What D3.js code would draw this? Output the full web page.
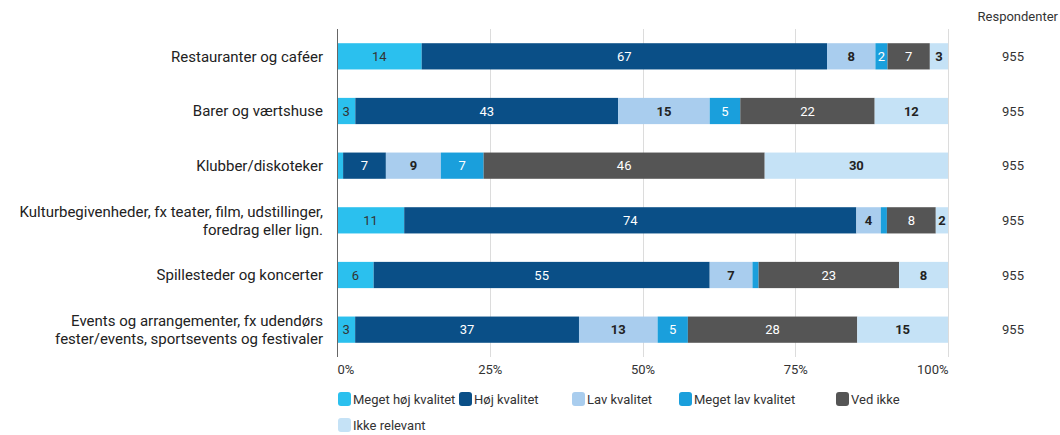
<!DOCTYPE html>
<html lang="da">
<head>
    <meta charset="UTF-8">
    <title>Kvalitet</title>
    <script src="https://d3js.org/d3.v7.min.js"></script>
    <style>
        body{ margin:0; background:white; }
        text{ font-family: Roboto, "Noto Sans", sans-serif; fill:#333; }
        .cat{ font-size:15px; text-anchor:end; fill:#222; }
        .val{ font-size:13px; text-anchor:middle; }
        .tick text{ font-size:13px; fill:#333; }
        .leg{ font-size:13px; }
        .grid{ stroke:#dcdcdc; stroke-width:1; }
    </style>
</head>
<body>
    <script>
        // data
        var categories = ["Restauranter og caféer", "Barer og værtshuse", "Klubber/diskoteker",
                          "Kulturbegivenheder, fx teater, film, udstillinger,|foredrag eller lign.",
                          "Spillesteder og koncerter",
                          "Events og arrangementer, fx udendørs|fester/events, sportsevents og festivaler"];
        var seriesNames = ["Meget høj kvalitet", "Høj kvalitet", "Lav kvalitet", "Meget lav kvalitet", "Ved ikke", "Ikke relevant"];
        var megetHoej    = [14, 3, 1, 11, 6, 3];
        var hoej         = [67, 43, 7, 74, 55, 37];
        var lav          = [8, 15, 9, 4, 7, 13];
        var megetLav     = [2, 5, 7, 1, 1, 5];
        var vedIkke      = [7, 22, 46, 8, 23, 28];
        var ikkeRelevant = [3, 12, 30, 2, 8, 15];
        var respondenter = [955, 955, 955, 955, 955, 955];
        var tickValues = [0, 0.25, 0.5, 0.75, 1];

        var colors = ["#2bc0ee", "#0a4f87", "#a9cdee", "#1a9fdc", "#555555", "#c5e2f6"];
        var labelColors = ["#333", "white", "#222", "white", "white", "#222"];
        var labelWeights = ["normal", "normal", "bold", "normal", "normal", "bold"];

        var allSeries = [megetHoej, hoej, lav, megetLav, vedIkke, ikkeRelevant];
        var rows = categories.map(function(c, i){
            var r = {cat: c};
            seriesNames.forEach(function(s, j){ r[s] = allSeries[j][i]; });
            return r;
        });

        var svg = d3.select("body").append("svg")
                    .attr("width", 1060).attr("height", 435);

        var x = d3.scaleLinear().domain([0, 1]).range([337, 948]);
        var y = d3.scaleBand().domain(categories).range([29, 357])
                  .paddingInner(0.52).paddingOuter(0.26);

        var stack = d3.stack().keys(seriesNames).offset(d3.stackOffsetExpand);
        var layers = stack(rows);

        // gridlines
        svg.append("g").selectAll("line")
           .data(tickValues.slice(1))
           .enter().append("line")
           .attr("class", "grid")
           .attr("x1", function(d){ return Math.round(x(d)) + 0.5; })
           .attr("x2", function(d){ return Math.round(x(d)) + 0.5; })
           .attr("y1", 29).attr("y2", 357);

        // bars
        var layer = svg.append("g").selectAll("g")
                       .data(layers)
                       .enter().append("g")
                       .attr("fill", function(d, i){ return colors[i]; });
        layer.selectAll("rect")
             .data(function(d){ return d; })
             .enter().append("rect")
             .attr("x", function(d){ return x(d[0]); })
             .attr("y", function(d){ return y(d.data.cat); })
             .attr("width", function(d){ return x(d[1]) - x(d[0]); })
             .attr("height", y.bandwidth());

        layer.selectAll("text")
             .data(function(d, i){ return d.map(function(p){ p.key = d.key; p.idx = i; return p; }); })
             .enter().append("text")
             .attr("class", "val")
             .filter(function(d){ return d.data[d.key] >= 2; })
             .attr("x", function(d){ return (x(d[0]) + x(d[1])) / 2; })
             .attr("y", function(d){ return y(d.data.cat) + y.bandwidth() / 2; })
             .attr("dy", "0.35em")
             .style("fill", function(d){ return labelColors[d.idx]; })
             .style("font-weight", function(d){ return labelWeights[d.idx]; })
             .text(function(d){ return d.data[d.key]; });

        // zero line
        svg.append("line")
           .attr("x1", x(0) + 0.5).attr("x2", x(0) + 0.5)
           .attr("y1", 29).attr("y2", 357)
           .attr("stroke", "#666").attr("stroke-width", 1);

        // category labels
        var cats = svg.append("g").selectAll("text")
                      .data(categories)
                      .enter().append("text")
                      .attr("class", "cat")
                      .attr("x", 323)
                      .attr("y", function(d){
                          var n = d.split("|").length;
                          return y(d) + y.bandwidth() / 2 - (n - 1) * 9;
                      });
        cats.selectAll("tspan")
            .data(function(d){ return d.split("|"); })
            .enter().append("tspan")
            .attr("x", 323)
            .attr("dy", function(d, i){ return i == 0 ? "0.35em" : 18; })
            .text(function(d){ return d; });

        // respondenter column
        svg.append("text")
           .attr("x", 1058).attr("y", 21)
           .style("font-size", "13px").style("text-anchor", "end")
           .text("Respondenter");
        svg.append("g").selectAll("text")
           .data(respondenter)
           .enter().append("text")
           .attr("class", "val")
           .attr("x", 1013)
           .attr("y", function(d, i){ return y(categories[i]) + y.bandwidth() / 2; })
           .attr("dy", "0.35em")
           .text(function(d){ return d; });

        // x axis
        var axis = svg.append("g")
                      .attr("transform", "translate(0,362)")
                      .call(d3.axisBottom(x).tickValues(tickValues)
                              .tickFormat(d3.format(".0%")).tickSize(0));
        axis.select(".domain").remove();
        axis.selectAll(".tick text")
            .style("font-family", "Roboto, sans-serif")
            .attr("text-anchor", function(d){ return d == 0 ? "start" : (d == 1 ? "end" : "middle"); });

        // legend
        var legendPos = [[338, 399], [459, 399], [572, 399], [679, 399], [836, 399], [338, 425]];
        var leg = svg.append("g").selectAll("g")
                     .data(seriesNames)
                     .enter().append("g")
                     .attr("transform", function(d, i){ return "translate(" + legendPos[i][0] + "," + legendPos[i][1] + ")"; });
        leg.append("rect")
           .attr("x", 0).attr("y", -7).attr("width", 13).attr("height", 14)
           .attr("rx", 3)
           .attr("fill", function(d, i){ return colors[i]; });
        leg.append("text")
           .attr("class", "leg")
           .attr("x", 15).attr("dy", "0.35em")
           .text(function(d){ return d; });
    </script>
</body>
</html>
